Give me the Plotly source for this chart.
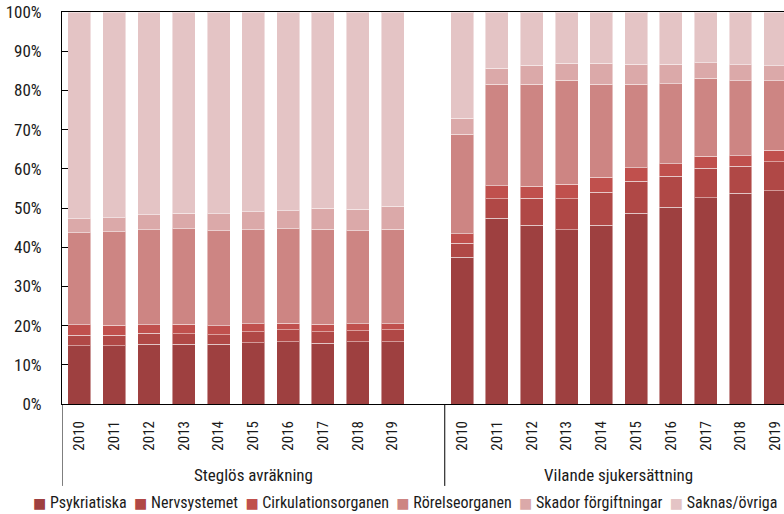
import plotly.graph_objects as go

groups = ["Steglös avräkning", "Vilande sjukersättning"]
years = ["2010", "2011", "2012", "2013", "2014", "2015", "2016", "2017", "2018", "2019"]
series = ["Psykriatiska", "Nervsystemet", "Cirkulationsorganen", "Rörelseorganen",
          "Skador förgiftningar", "Saknas/övriga"]
colors = ["#9E4040", "#B04846", "#C0504D", "#CD8583", "#DBA9A9", "#E4C4C5"]
y_ticks = [0, 10, 20, 30, 40, 50, 60, 70, 80, 90, 100]

# cumulative tops (percent), per group, per year
steglos_cum = {
    "Psykriatiska":        [14.8, 14.8, 15.2, 15.3, 15.2, 15.6, 15.9, 15.5, 15.9, 15.9],
    "Nervsystemet":        [17.5, 17.5, 18.0, 17.9, 17.7, 18.4, 19.0, 18.4, 18.7, 18.9],
    "Cirkulationsorganen": [20.2, 20.1, 20.2, 20.4, 20.0, 20.5, 20.6, 20.4, 20.5, 20.5],
    "Rörelseorganen":      [43.7, 43.9, 44.5, 44.7, 44.2, 44.5, 44.7, 44.6, 44.2, 44.6],
    "Skador förgiftningar":[47.3, 47.5, 48.3, 48.7, 48.5, 49.1, 49.3, 50.0, 49.7, 50.5],
    "Saknas/övriga":       [100.0] * 10,
}
vilande_cum = {
    "Psykriatiska":        [37.4, 47.4, 45.6, 44.5, 45.6, 48.6, 50.2, 52.6, 53.8, 54.4],
    "Nervsystemet":        [41.0, 52.4, 52.5, 52.4, 54.0, 56.8, 58.1, 60.2, 60.6, 61.8],
    "Cirkulationsorganen": [43.4, 55.7, 55.5, 56.1, 57.8, 60.3, 61.3, 63.2, 63.3, 64.7],
    "Rörelseorganen":      [68.8, 81.6, 81.6, 82.6, 81.6, 81.6, 81.7, 83.1, 82.4, 82.4],
    "Skador förgiftningar":[72.9, 85.6, 86.4, 86.9, 86.9, 86.7, 86.7, 87.0, 86.5, 86.3],
    "Saknas/övriga":       [100.0] * 10,
}

def shares(cum):
    out = {}
    prev = [0.0] * len(years)
    for s in series:
        out[s] = [round(c - p, 2) for c, p in zip(cum[s], prev)]
        prev = cum[s]
    return out

steglos = shares(steglos_cum)
vilande = shares(vilande_cum)

n = len(years)
slot = n + 1  # one empty slot after each group
xpos = [g * slot + i for g in range(len(groups)) for i in range(n)]
ticktext = years * len(groups)

FONT = "Roboto Condensed"
TXT = "#1a1a1a"

fig = go.Figure()
for s, c in zip(series, colors):
    fig.add_trace(go.Bar(
        x=xpos, y=steglos[s] + vilande[s], name=s, showlegend=False,
        marker=dict(color=c, line=dict(color="rgba(255,255,255,0.45)", width=1)),
        width=0.66,
    ))

shapes = []
annotations = []
for g, name in enumerate(groups):
    left = g * slot - 0.5
    right = left + slot if g == 0 else left + n
    shapes.append(dict(type="line", xref="x", yref="paper", x0=left, x1=left,
                       y0=0, y1=-0.209, line=dict(color="black", width=1)))
    annotations.append(dict(x=(left + right) / 2, y=-0.181, xref="x", yref="paper",
                            text=name, showarrow=False, yanchor="middle",
                            font=dict(family=FONT, size=17, color=TXT)))

# legend row built from the series names and colours
legend_text = "  ".join(
    f'<span style="font-family:DejaVu Sans;font-size:14px;color:{c}">■</span> {s}'
    for s, c in zip(series, colors))
annotations.append(dict(x=0.475, y=-0.25, xref="paper", yref="paper",
                        text=legend_text, showarrow=False, xanchor="center", yanchor="middle",
                        font=dict(family=FONT, size=16, color=TXT)))

fig.update_layout(
    width=784, height=514,
    margin=dict(l=62, r=0, t=12, b=110),
    barmode="stack",
    paper_bgcolor="white", plot_bgcolor="white",
    font=dict(family=FONT, size=17, color=TXT),
    showlegend=False,
    shapes=shapes, annotations=annotations,
    xaxis=dict(range=[-0.5, 20.25], tickmode="array", tickvals=xpos, ticktext=ticktext,
               tickangle=-90, showgrid=False, zeroline=False, showline=True,
               linecolor="black", linewidth=1, mirror=True, ticks="", automargin=False,
               ticklabelstandoff=10, ticklabeloverflow="allow",
               tickfont=dict(family=FONT, size=15, color=TXT)),
    yaxis=dict(range=[0, 100], tickmode="array", tickvals=y_ticks,
               ticktext=[f"{v}%" for v in y_ticks], showgrid=False, zeroline=False,
               showline=True, linecolor="black", linewidth=1, ticks="inside", ticklen=6,
               tickcolor="black", automargin=False, ticklabelstandoff=16,
               tickfont=dict(family=FONT, size=17, color=TXT)),
)

fig.write_html("out.html", config={"displayModeBar": False},
               post_script="document.body.style.margin='0';")
